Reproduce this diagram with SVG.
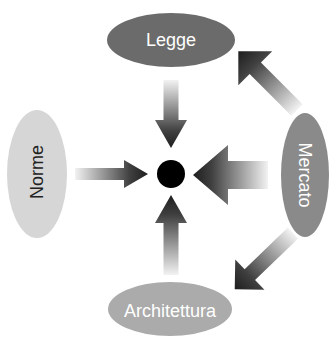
<svg xmlns="http://www.w3.org/2000/svg" width="331" height="337" viewBox="0 0 331 337">
<defs>
<linearGradient id="g" x1="0" y1="0" x2="1" y2="0">
<stop offset="0" stop-color="#f2f2f2"/>
<stop offset="0.55" stop-color="#707070"/>
<stop offset="0.75" stop-color="#404040"/>
<stop offset="1" stop-color="#1e1e1e"/>
</linearGradient>
</defs>
<style>
.lbl{font-family:"Liberation Sans",Arial,sans-serif;font-size:18px;text-anchor:middle}
.w{fill:#ffffff}
.d{fill:#222222}
.arr{fill:url(#g)}
</style>
<rect width="331" height="337" fill="#ffffff"/>
<g id="connectors">
<path class="arr" transform="translate(171,80) rotate(90)" d="M0,-7.5 L40,-7.5 L40,-16 L68,0 L40,16 L40,7.5 L0,7.5 Z"/>
<path class="arr" transform="translate(171,275) rotate(-90)" d="M0,-7.5 L52,-7.5 L52,-16 L80,0 L52,16 L52,7.5 L0,7.5 Z"/>
<path class="arr" transform="translate(75,174)" d="M0,-6 L49,-6 L49,-14 L73,0 L49,14 L49,6 L0,6 Z"/>
<path class="arr" transform="translate(268,175) rotate(180)" d="M0,-14 L40,-14 L40,-30 L75,0 L40,30 L40,14 L0,14 Z"/>
<path class="arr" transform="translate(297,110) rotate(225)" d="M0,-8 L59,-8 L59,-24 L83,0 L59,24 L59,8 L0,8 Z"/>
<path class="arr" transform="translate(293,233) rotate(136)" d="M0,-7.5 L60,-7.5 L60,-21 L81,0 L60,21 L60,7.5 L0,7.5 Z"/>
</g>
<g id="center"><circle cx="171" cy="174" r="14" fill="#000000"/></g>
<g id="legge">
<ellipse cx="171" cy="40" rx="64" ry="27" fill="#6b6b6b"/>
<text class="lbl w" x="171" y="46">Legge</text>
</g>
<g id="norme">
<ellipse cx="37" cy="174" rx="30" ry="64" fill="#d6d6d6"/>
<text class="lbl d" transform="translate(36,172) rotate(-90)" x="0" y="6.5">Norme</text>
</g>
<g id="mercato">
<ellipse cx="305" cy="175" rx="24" ry="62" fill="#8a8a8a"/>
<text class="lbl w" transform="translate(305,175) rotate(90)" x="0" y="6.5">Mercato</text>
</g>
<g id="architettura">
<ellipse cx="170" cy="309" rx="62" ry="27" fill="#ababab"/>
<text class="lbl w" x="170" y="317">Architettura</text>
</g>
</svg>
